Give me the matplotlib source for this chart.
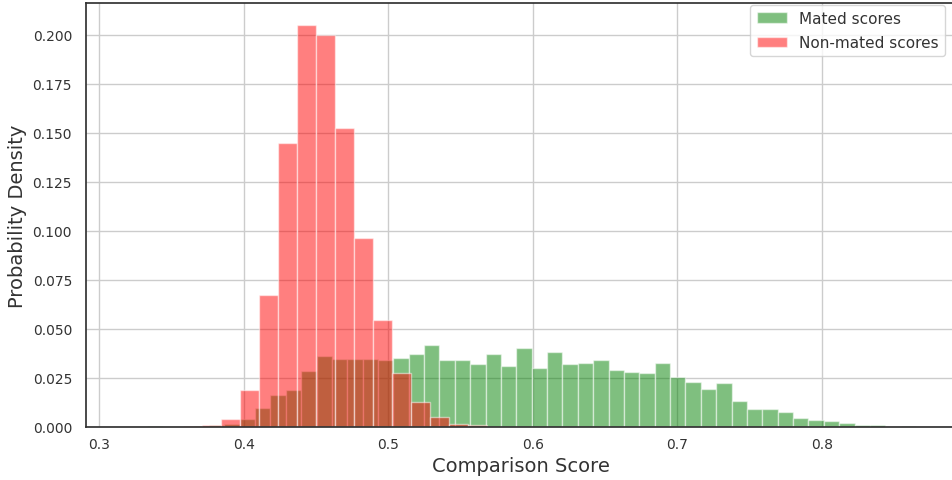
import numpy as np
import matplotlib.pyplot as plt

# Score histograms (fraction of comparisons per bin)
mated_range = (0.3333, 0.8653)
mated_freq = [0.0004, 0.0, 0.0, 0.0003, 0.0008, 0.0013, 0.0042, 0.0096, 0.0161, 0.0188,
              0.0287, 0.0360, 0.0344, 0.0344, 0.0344, 0.0339, 0.0353, 0.0373, 0.0419, 0.0339,
              0.0339, 0.0319, 0.0373, 0.0312, 0.0404, 0.0300, 0.0380, 0.0319, 0.0327, 0.0339,
              0.0293, 0.0282, 0.0273, 0.0327, 0.0254, 0.0229, 0.0195, 0.0222, 0.0135, 0.0094,
              0.0094, 0.0076, 0.0048, 0.0037, 0.0030, 0.0021, 0.0009, 0.0009, 0.0002, 0.0003]

nonmated_range = (0.3187, 0.5680)
nonmated_freq = [0.0, 0.0, 0.0, 0.0005, 0.0010, 0.0042, 0.0190, 0.0672, 0.1446, 0.2050,
                 0.1997, 0.1526, 0.0963, 0.0545, 0.0274, 0.0129, 0.0052, 0.0016, 0.0008]

plt.rcParams['font.family'] = 'DejaVu Sans'
plt.rcParams['text.color'] = '#333333'
plt.rcParams['axes.labelcolor'] = '#333333'
plt.rcParams['xtick.color'] = '#333333'
plt.rcParams['ytick.color'] = '#333333'

fig = plt.figure(figsize=(9.52, 4.81), dpi=100)
ax = fig.add_axes([0.0903, 0.1102, 0.9136, 0.8815])

mated_bins = np.linspace(mated_range[0], mated_range[1], len(mated_freq) + 1)
nonmated_bins = np.linspace(nonmated_range[0], nonmated_range[1], len(nonmated_freq) + 1)

ax.hist(mated_bins[:-1], bins=mated_bins, weights=mated_freq, color='green', alpha=0.5,
        edgecolor='white', linewidth=1, label='Mated scores')
ax.hist(nonmated_bins[:-1], bins=nonmated_bins, weights=nonmated_freq, color='red', alpha=0.5,
        edgecolor='white', linewidth=1, label='Non-mated scores')

ax.set_xlim(0.2908, 0.8927)
ax.set_ylim(0, 0.2161)
ax.set_xticks([0.3, 0.4, 0.5, 0.6, 0.7, 0.8])
ax.set_xticklabels(['0.3', '0.4', '0.5', '0.6', '0.7', '0.8'])
ax.set_yticks(np.arange(0, 0.201, 0.025))
ax.set_yticklabels(['%.3f' % v for v in np.arange(0, 0.201, 0.025)])
ax.tick_params(axis='x', length=0, pad=7, labelsize=10)
ax.tick_params(axis='y', length=0, pad=10, labelsize=10)

ax.grid(True, color='#cccccc', linewidth=1)
ax.set_axisbelow(True)
for side in ['left', 'bottom', 'top', 'right']:
    ax.spines[side].set_color('#333333')
    ax.spines[side].set_linewidth(1.25)

ax.set_xlabel('Comparison Score', fontsize=14)
ax.set_ylabel('Probability Density', fontsize=14)
ax.legend(loc='upper right', bbox_to_anchor=(0.9877, 0.9953), borderaxespad=0,
          fontsize=11, labelspacing=0.6)

plt.savefig('out.png', dpi=100)
